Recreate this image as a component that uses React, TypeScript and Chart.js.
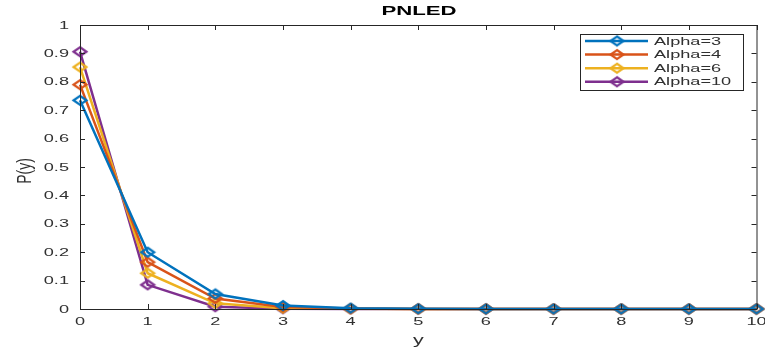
import React, { useEffect, useRef } from "react";
import { Chart, registerables } from "chart.js";

Chart.register(...registerables);

const xValues = [0, 1, 2, 3, 4, 5, 6, 7, 8, 9, 10];
const alpha3 = [0.735, 0.2, 0.053, 0.012, 0.003, 0.0007, 0.0002, 0, 0, 0, 0];
const alpha4 = [0.79, 0.165, 0.037, 0.007, 0.0015, 0.0003, 0, 0, 0, 0, 0];
const alpha6 = [0.852, 0.126, 0.02, 0.003, 0.0005, 0, 0, 0, 0, 0, 0];
const alpha10 = [0.906, 0.085, 0.008, 0.001, 0.0001, 0, 0, 0, 0, 0, 0];
const seriesLabels = ["Alpha=3", "Alpha=4", "Alpha=6", "Alpha=10"];
const seriesColors = ["#0072BD", "#D95319", "#EDB120", "#7E2F8E"];
const titleText = "PNLED";
const xLabel = "y";
const yLabel = "P(y)";

const FONT = "'Liberation Sans', Arial, sans-serif";
const SX = 1.65; // horizontal text stretch seen in the reference
const TEXT_COLOR = "#303030";

function makeDiamond(color: string) {
  const c = document.createElement("canvas");
  c.width = 18;
  c.height = 13;
  const g = c.getContext("2d")!;
  g.strokeStyle = color;
  g.lineWidth = 2.2;
  g.lineJoin = "miter";
  g.beginPath();
  g.moveTo(9, 2);
  g.lineTo(15.5, 6.5);
  g.lineTo(9, 11);
  g.lineTo(2.5, 6.5);
  g.closePath();
  g.stroke();
  return c;
}

function stretchedText(ctx: any, text: string, x: number, y: number, align: string, font: string, sx = SX) {
  ctx.save();
  ctx.font = font;
  ctx.textAlign = align;
  ctx.textBaseline = "middle";
  ctx.translate(x, y);
  ctx.scale(sx, 1);
  ctx.fillText(text, 0, 0);
  ctx.restore();
}

const boxPlugin = {
  id: "matlabBox",
  afterDraw(chart: any) {
    const { ctx, chartArea } = chart;
    const { left, right, top, bottom } = chartArea;
    const xs = chart.scales.x;
    const ys = chart.scales.y;
    ctx.save();
    ctx.strokeStyle = "#262626";
    ctx.lineWidth = 1;
    ctx.strokeRect(left + 0.5, top + 0.5, right - left, bottom - top);
    ctx.beginPath();
    xs.ticks.forEach((t: any) => {
      const px = Math.round(xs.getPixelForValue(t.value)) + 0.5;
      ctx.moveTo(px, bottom);
      ctx.lineTo(px, bottom - 5);
      ctx.moveTo(px, top);
      ctx.lineTo(px, top + 5);
    });
    ys.ticks.forEach((t: any) => {
      const py = Math.round(ys.getPixelForValue(t.value)) + 0.5;
      ctx.moveTo(left, py);
      ctx.lineTo(left + 5, py);
      ctx.moveTo(right, py);
      ctx.lineTo(right - 5, py);
    });
    ctx.stroke();

    // tick labels
    ctx.fillStyle = TEXT_COLOR;
    const tickFont = `11px ${FONT}`;
    xs.ticks.forEach((t: any) => {
      stretchedText(ctx, String(t.value), xs.getPixelForValue(t.value), bottom + 13, "center", tickFont);
    });
    ys.ticks.forEach((t: any) => {
      const label = String(Math.round(t.value * 10) / 10);
      stretchedText(ctx, label, left - 11, ys.getPixelForValue(t.value) + 0.5, "right", tickFont);
    });

    // axis titles
    stretchedText(ctx, xLabel, (left + right) / 2, 340, "center", `13px ${FONT}`);
    ctx.save();
    ctx.translate(26, (top + bottom) / 2 + 4);
    ctx.rotate(-Math.PI / 2);
    ctx.scale(1, SX * 0.85);
    ctx.font = `14px ${FONT}`;
    ctx.textAlign = "center";
    ctx.textBaseline = "middle";
    ctx.fillText(yLabel, 0, 0);
    ctx.restore();

    // title
    ctx.fillStyle = "#000";
    stretchedText(ctx, titleText, 419, 12, "center", `bold 12px ${FONT}`, 1.85);

    // legend
    const lx = 580, ly = 34, lw = 163, lh = 56;
    ctx.fillStyle = "#fff";
    ctx.fillRect(lx, ly, lw, lh);
    ctx.strokeStyle = "#262626";
    ctx.lineWidth = 1;
    ctx.strokeRect(lx + 0.5, ly + 0.5, lw, lh);
    chart.data.datasets.forEach((ds: any, i: number) => {
      const cy = ly + 7 + i * 13.6;
      ctx.strokeStyle = ds.borderColor;
      ctx.lineWidth = 2.5;
      ctx.beginPath();
      ctx.moveTo(lx + 5, cy);
      ctx.lineTo(lx + 68, cy);
      ctx.stroke();
      ctx.drawImage(ds.pointStyle, lx + 37 - 9, cy - 6.5);
      ctx.fillStyle = TEXT_COLOR;
      stretchedText(ctx, ds.label, lx + 74, cy + 0.5, "left", `11px ${FONT}`);
    });
    ctx.restore();
  },
};

export default function App() {
  const ref = useRef<HTMLCanvasElement>(null);
  useEffect(() => {
    const datasets = [alpha3, alpha4, alpha6, alpha10].map((arr, i) => ({
      label: seriesLabels[i],
      data: xValues.map((x, j) => ({ x, y: arr[j] })),
      borderColor: seriesColors[i],
      backgroundColor: "rgba(0,0,0,0)",
      borderWidth: 2.5,
      pointStyle: makeDiamond(seriesColors[i]),
      pointRadius: 6,
      tension: 0,
      clip: false,
    }));
    const chart = new Chart(ref.current!, {
      type: "line",
      data: { datasets },
      plugins: [boxPlugin],
      options: {
        animation: false,
        responsive: false,
        layout: { padding: { top: 25, right: 8, left: 0, bottom: 0 } },
        plugins: { legend: { display: false }, tooltip: { enabled: false } },
        scales: {
          x: {
            type: "linear",
            min: 0,
            max: 10,
            grid: { display: false },
            border: { display: false },
            ticks: { stepSize: 1, display: false },
            afterFit: (s: any) => { s.height = 40; },
          },
          y: {
            min: 0,
            max: 1,
            grid: { display: false },
            border: { display: false },
            ticks: { stepSize: 0.1, display: false },
            afterFit: (s: any) => { s.width = 80; },
          },
        },
      },
    } as any);
    return () => chart.destroy();
  }, []);
  return (
    <div style={{ position: "fixed", left: 0, top: 0, width: 765, height: 349, background: "#fff" }}>
      <canvas ref={ref} width={765} height={349} />
    </div>
  );
}
